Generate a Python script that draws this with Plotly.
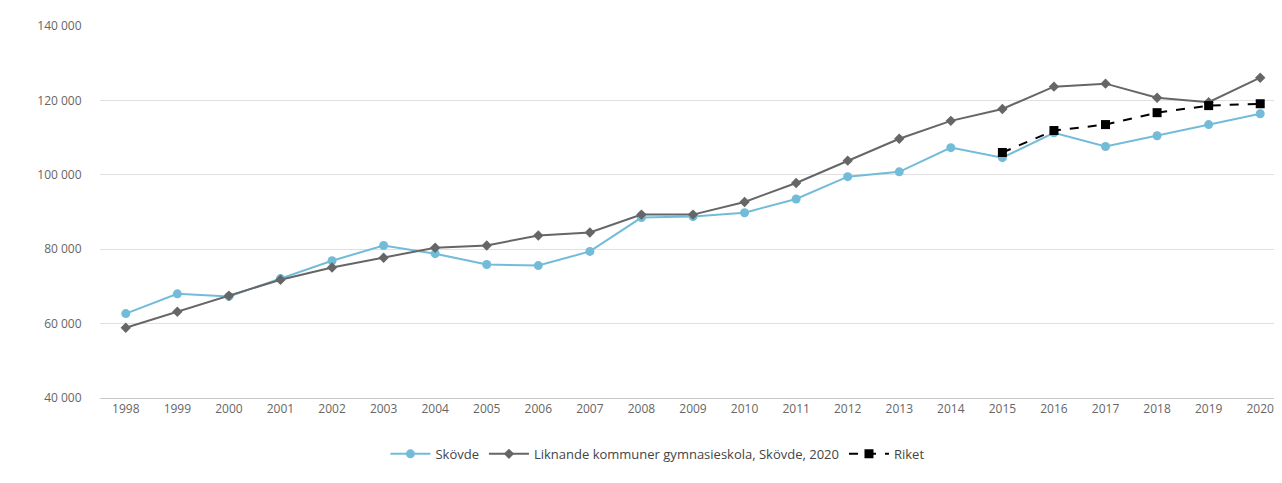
import plotly.graph_objects as go

years = [str(y) for y in range(1998, 2021)]

skovde = [62700, 68000, 67300, 72100, 76900, 81000, 78800, 75900, 75600, 79400,
          88500, 88800, 89800, 93500, 99500, 100800, 107300, 104600, 111300,
          107600, 110500, 113500, 116400]

liknande = [58900, 63200, 67500, 71800, 75100, 77700, 80400, 81000, 83700, 84500,
            89300, 89300, 92700, 97800, 103800, 109700, 114500, 117700, 123700,
            124500, 120700, 119500, 126100]

riket_years = ["2015", "2016", "2017", "2018", "2019", "2020"]
riket = [106000, 111900, 113500, 116700, 118600, 119100]

y_ticks = [40000, 60000, 80000, 100000, 120000, 140000]
y_labels = ["40 000", "60 000", "80 000", "100 000", "120 000", "140 000"]

fig = go.Figure()

fig.add_trace(go.Scatter(
    x=years, y=skovde, name="Skövde", mode="lines+markers",
    line=dict(color="#72bcd9", width=2),
    marker=dict(symbol="circle", size=9, color="#72bcd9"),
))
fig.add_trace(go.Scatter(
    x=years, y=liknande, name="Liknande kommuner gymnasieskola, Skövde, 2020",
    mode="lines+markers",
    line=dict(color="#666666", width=2),
    marker=dict(symbol="diamond", size=8, color="#666666"),
))
fig.add_trace(go.Scatter(
    x=riket_years, y=riket, name="Riket", mode="lines+markers",
    line=dict(color="#000000", width=2, dash="dash"),
    marker=dict(symbol="square", size=9, color="#000000"),
))

fig.update_layout(
    width=1282, height=483,
    margin=dict(l=92, r=4, t=18, b=93),
    paper_bgcolor="white", plot_bgcolor="white",
    font=dict(family="Open Sans, DejaVu Sans, sans-serif", size=12, color="#555555"),
    showlegend=True,
    legend=dict(orientation="h", x=0.47, xanchor="center", y=-0.11, yanchor="top",
                font=dict(size=13, color="#444444"), itemwidth=40),
    xaxis=dict(
        type="category", range=[-0.5, 22.5],
        showgrid=False, showline=True, linecolor="#c8c8c8", linewidth=1,
        ticks="", tickfont=dict(size=12, color="#666666"),
    ),
    yaxis=dict(
        range=[40000, 140000], tickvals=y_ticks, ticktext=y_labels,
        showgrid=True, gridcolor="#e0e0e0", zeroline=False,
        ticks="outside", ticklen=15, tickcolor="rgba(0,0,0,0)",
        tickfont=dict(size=12, color="#666666"),
    ),
)

fig.write_html("out.html")
